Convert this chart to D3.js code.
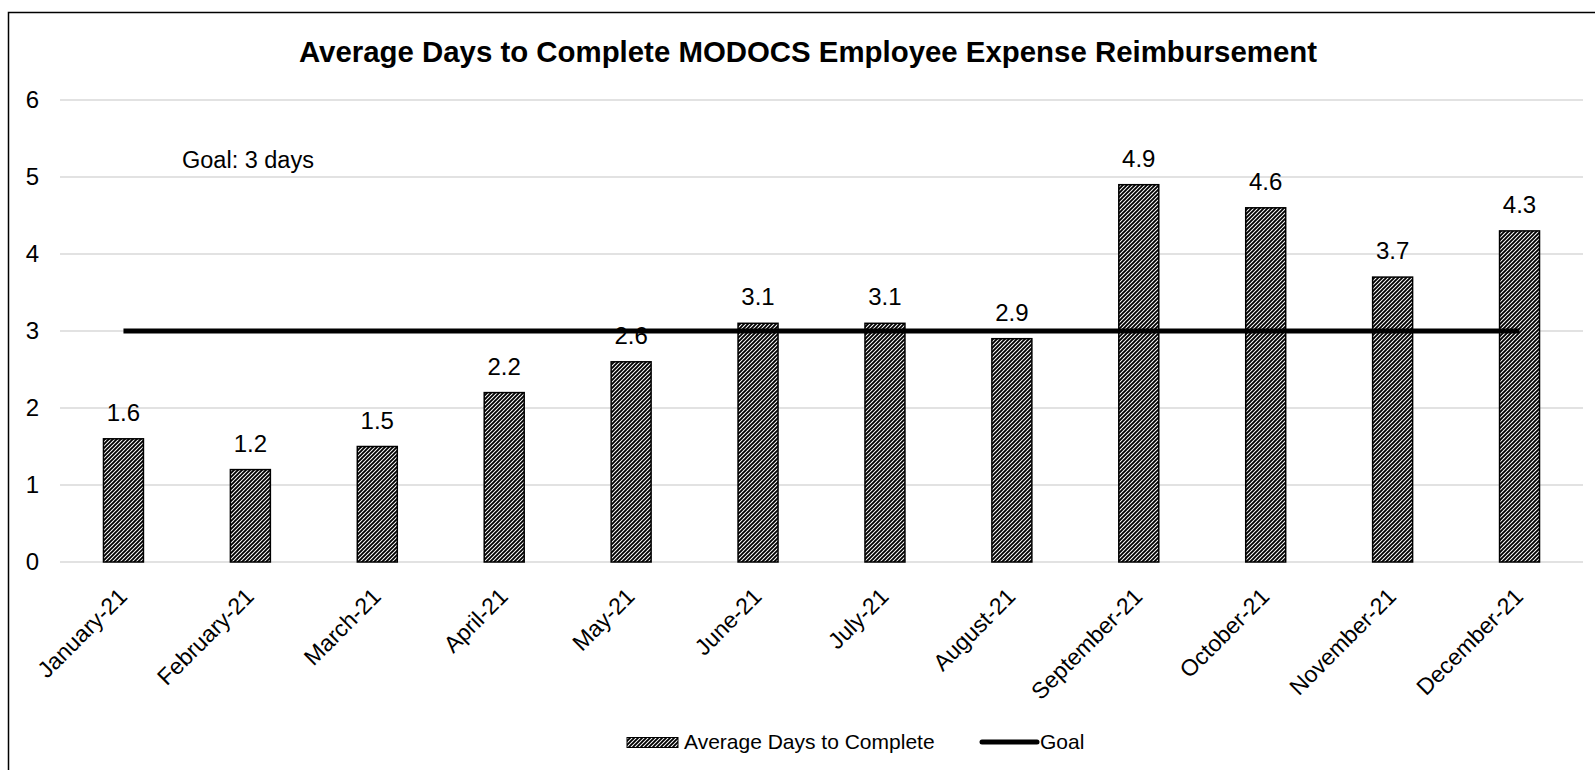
<!DOCTYPE html>
<html><head><meta charset="utf-8">
<script src="https://cdn.jsdelivr.net/npm/d3@7"></script>
<style>body{margin:0;background:#fff}svg{display:block}text{font-family:"Liberation Sans",Arial,sans-serif}</style>
</head><body>
<svg id="c" width="1595" height="770"></svg>
<script>
const months = ["January-21","February-21","March-21","April-21","May-21","June-21","July-21","August-21","September-21","October-21","November-21","December-21"];
const avgDays = [1.6,1.2,1.5,2.2,2.6,3.1,3.1,2.9,4.9,4.6,3.7,4.3];
const goal = [3,3,3,3,3,3,3,3,3,3,3,3];
const yTicks = [0,1,2,3,4,5,6];
const title = "Average Days to Complete MODOCS Employee Expense Reimbursement";

const svg = d3.select("#c");
svg.append("rect").attr("x",8.5).attr("y",12.5).attr("width",1620).attr("height",800).attr("fill","#fff").attr("stroke","#000").attr("stroke-width",1.5);

const defs = svg.append("defs");
const pat = defs.append("pattern").attr("id","hatch").attr("patternUnits","userSpaceOnUse").attr("width",4).attr("height",4);
pat.append("rect").attr("width",4).attr("height",4).attr("fill","#fff");
pat.append("path").attr("d","M0,4 L4,0 M-1,1 L1,-1 M3,5 L5,3").attr("stroke","#000").attr("stroke-width",1.9);

const x = d3.scaleBand().domain(months).range([60,1583]).paddingInner(0.685).paddingOuter(0.3425);
const y = d3.scaleLinear().domain([0,6]).range([562,100]);

// gridlines
svg.append("g").selectAll("line").data(yTicks).join("line")
  .attr("x1",60).attr("x2",1583).attr("y1",d=>y(d)).attr("y2",d=>y(d))
  .attr("stroke","#d9d9d9").attr("stroke-width",1.5);

// y labels
svg.append("g").selectAll("text").data(yTicks).join("text")
  .attr("x",39).attr("y",d=>y(d)).attr("dy","0.35em").attr("text-anchor","end")
  .attr("font-size",24).text(d=>d);

// bars
svg.append("g").selectAll("rect").data(avgDays).join("rect")
  .attr("x",(d,i)=>x(months[i])).attr("width",x.bandwidth())
  .attr("y",d=>y(d)).attr("height",d=>y(0)-y(d))
  .attr("fill","url(#hatch)").attr("stroke","#000").attr("stroke-width",1.5);

// data labels
svg.append("g").selectAll("text").data(avgDays).join("text")
  .attr("x",(d,i)=>x(months[i])+x.bandwidth()/2).attr("y",d=>y(d)-18)
  .attr("text-anchor","middle").attr("font-size",24).text(d=>d.toFixed(1));

// goal line
const cx = m => x(m)+x.bandwidth()/2;
svg.append("path").datum(goal)
  .attr("d",d3.line().x((d,i)=>cx(months[i])).y(d=>y(d)))
  .attr("fill","none").attr("stroke","#000").attr("stroke-width",5);

// x labels
svg.append("g").selectAll("text").data(months).join("text")
  .attr("transform",d=>`translate(${cx(d)+5},${598}) rotate(-45)`)
  .attr("text-anchor","end").attr("font-size",23).text(d=>d);

// title
svg.append("text").attr("x",808).attr("y",62).attr("text-anchor","middle")
  .attr("font-size",29.4).attr("font-weight","bold").text(title);

// goal annotation
svg.append("text").attr("x",182).attr("y",168).attr("font-size",23.5).text("Goal: 3 days");

// legend
const lg = svg.append("g");
lg.append("rect").attr("x",627).attr("y",737.5).attr("width",51).attr("height",10).attr("fill","url(#hatch)").attr("stroke","#000").attr("stroke-width",1);
lg.append("text").attr("x",684).attr("y",742).attr("dy","0.35em").attr("font-size",21).text("Average Days to Complete");
lg.append("line").attr("x1",982).attr("x2",1037).attr("y1",742).attr("y2",742).attr("stroke","#000").attr("stroke-width",5).attr("stroke-linecap","round");
lg.append("text").attr("x",1040).attr("y",742).attr("dy","0.35em").attr("font-size",21).text("Goal");
</script>
</body></html>
